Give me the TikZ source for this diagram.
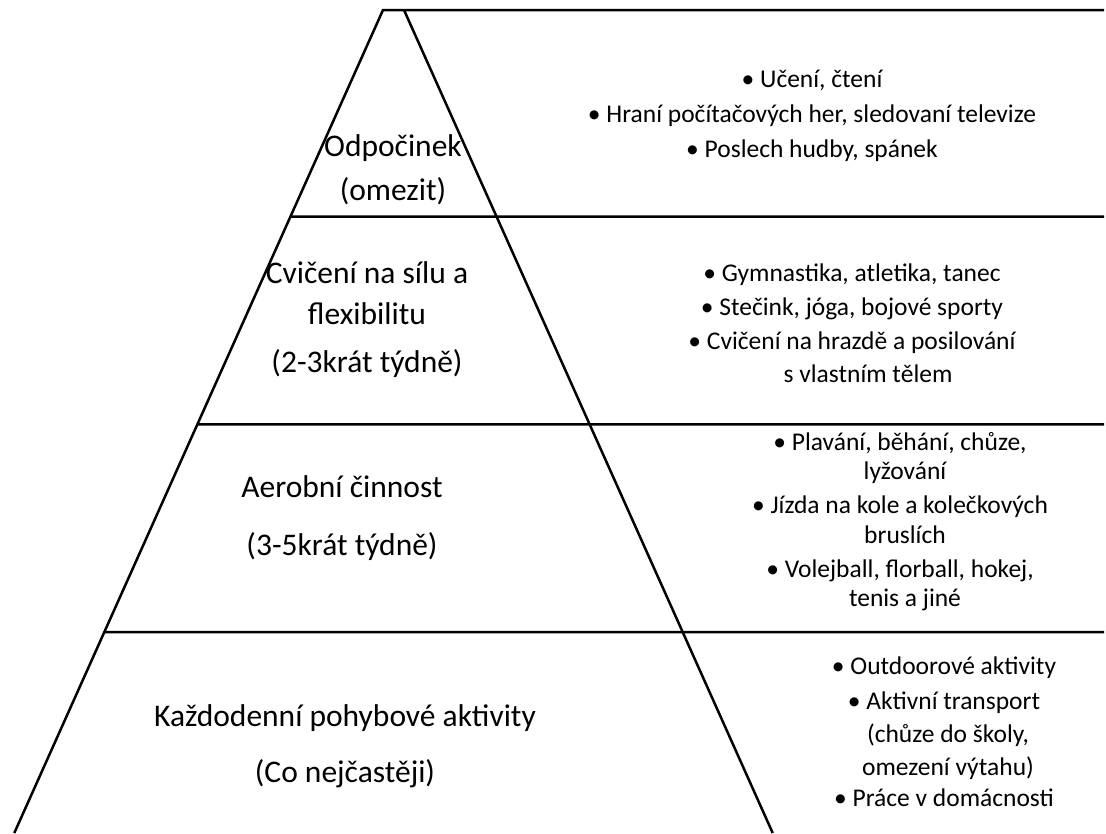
\documentclass[tikz,border=0pt]{standalone}
\usepackage{fontspec}
\setmainfont{Carlito}
\usetikzlibrary{calc}
\begin{document}
\begin{tikzpicture}[x=1pt,y=-1pt,
  edge/.style={line width=2.5pt,line join=miter},
  lt/.style={anchor=base,inner sep=0pt,font=\fontsize{31.5}{36}\selectfont},
  rt/.style={anchor=base,inner sep=0pt,font=\fontsize{25.5}{30}\selectfont}]
\useasboundingbox (0,0) rectangle (1106,833);
% pyramid
\coordinate (A) at (383,10);
\coordinate (B) at (404,10);
\coordinate (BL) at (14.3,833);
\coordinate (BR) at (772.7,833);
\coordinate (TR) at (1104,10);
\coordinate (L1) at ($(A)!0.2512!(BL)$);
\coordinate (L2) at ($(A)!0.5034!(BL)$);
\coordinate (L3) at ($(A)!0.7558!(BL)$);
\coordinate (R1) at (1104,216.7);
\coordinate (R2) at (1104,424.3);
\coordinate (R3) at (1104,632);
\draw[edge] (BL) -- (A) -- (TR);
\draw[edge] (B) -- (BR);
\draw[edge] (L1) -- (R1);
\draw[edge] (L2) -- (R2);
\draw[edge] (L3) -- (R3);
% left labels
\node[lt] (a1) at (393,156) {Odpočinek};
\node[lt] (a2) at (393,200) {(omezit)};
\node[lt] (b1) at (367,283) {Cvičení na sílu a};
\node[lt] (b2) at (367,324) {flexibilitu};
\node[lt] (b3) at (367,372) {(2-3krát týdně)};
\node[lt] (c1) at (342,497) {Aerobní činnost};
\node[lt] (c2) at (342,555) {(3-5krát týdně)};
\node[lt] (d1) at (345,726) {Každodenní pohybové aktivity};
\node[lt] (d2) at (345,782) {(Co nejčastěji)};
% right lists
\node[rt] (p1) at (812,87) {• Učení, čtení};
\node[rt] (p2) at (812,122) {• Hraní počítačových her, sledovaní televize};
\node[rt] (p3) at (812,157) {• Poslech hudby, spánek};
\node[rt] (q1) at (852,281) {• Gymnastika, atletika, tanec};
\node[rt] (q2) at (852,315) {• Stečink, jóga, bojové sporty};
\node[rt] (q3) at (852,349) {• Cvičení na hrazdě a posilování};
\node[rt] (q4) at (868,382) {s vlastním tělem};
\node[rt] (s1) at (900,450) {• Plavání, běhání, chůze,};
\node[rt] (s2) at (905,479) {lyžování};
\node[rt] (s3) at (900,513) {• Jízda na kole a kolečkových};
\node[rt] (s4) at (905,543) {bruslích};
\node[rt] (s5) at (900,577) {• Volejball, florball, hokej,};
\node[rt] (s6) at (905,606) {tenis a jiné};
\node[rt] (t1) at (944,674) {• Outdoorové aktivity};
\node[rt] (t2) at (944,709) {• Aktivní transport};
\node[rt] (t3) at (948,742) {(chůze do školy,};
\node[rt] (t4) at (948,775) {omezení výtahu)};
\node[rt] (t5) at (944,806) {• Práce v domácnosti};
\end{tikzpicture}
\end{document}
